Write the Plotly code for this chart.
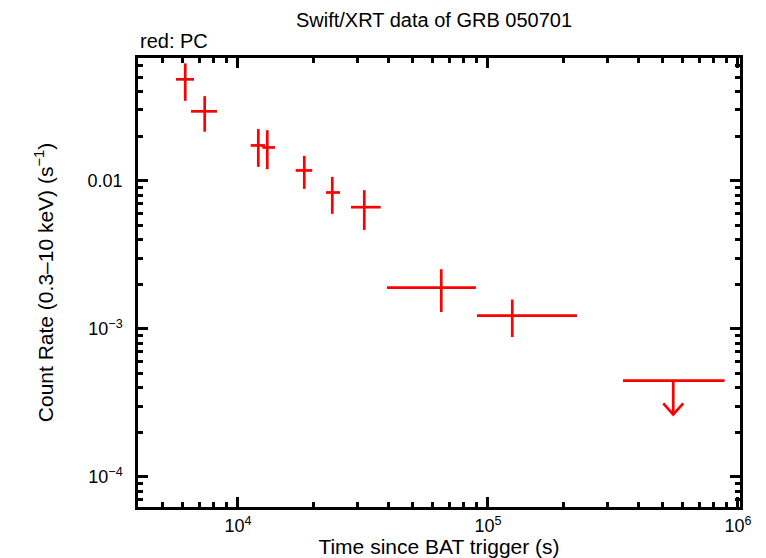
import numpy as np
import plotly.graph_objects as go

# Data (PC mode, red)
t = [6152, 7359, 12057, 13098, 18415, 23835, 32002, 65044, 125085]
t_lo = [5649, 6486, 11240, 12507, 17014, 22491, 28314, 39446, 90365]
t_hi = [6668, 8241, 12823, 14060, 19824, 25586, 37239, 89536, 226986]
rate = [0.0483, 0.02937, 0.01729, 0.01676, 0.01172, 0.00832, 0.00662, 0.001899, 0.001228]
rate_hi = [0.0619, 0.0372, 0.0223, 0.0219, 0.01471, 0.01061, 0.00863, 0.002524, 0.001576]
rate_lo = [0.0346, 0.0214, 0.01239, 0.01196, 0.00880, 0.00597, 0.00465, 0.001299, 0.000880]

# Upper limit
ul_t = [551077]
ul_t_lo = [346737]
ul_t_hi = [884723]
ul_rate = [0.000447]
ul_tip = [0.000264]

x_tickvals = [1e4, 1e5, 1e6]
x_ticktext = ["10<sup>4</sup>", "10<sup>5</sup>", "10<sup>6</sup>"]
y_tickvals = [1e-4, 1e-3, 1e-2]
y_ticktext = ["10<sup>\u22124</sup>", "10<sup>\u22123</sup>", "0.01"]

RED = "#ff0000"
LW = 2.7

fig = go.Figure()

fig.add_trace(go.Scatter(
    x=t, y=rate, mode="markers",
    marker=dict(size=1, color=RED, opacity=0),
    error_x=dict(type="data", symmetric=False,
                 array=[h - c for h, c in zip(t_hi, t)],
                 arrayminus=[c - l for c, l in zip(t, t_lo)],
                 color=RED, thickness=LW, width=0),
    error_y=dict(type="data", symmetric=False,
                 array=[h - c for h, c in zip(rate_hi, rate)],
                 arrayminus=[c - l for c, l in zip(rate, rate_lo)],
                 color=RED, thickness=LW, width=0),
    showlegend=False, hoverinfo="skip"))

# Upper limit: horizontal bar, stem and chevron
for tc, tl, th, r, tip in zip(ul_t, ul_t_lo, ul_t_hi, ul_rate, ul_tip):
    fig.add_trace(go.Scatter(x=[tl, th], y=[r, r], mode="lines",
                             line=dict(color=RED, width=LW), showlegend=False,
                             hoverinfo="skip"))
    fig.add_trace(go.Scatter(x=[tc, tc], y=[r, tip], mode="lines",
                             line=dict(color=RED, width=LW), showlegend=False,
                             hoverinfo="skip"))
    dx = 10 ** 0.04
    dy = 10 ** 0.075
    fig.add_trace(go.Scatter(x=[tc / dx, tc, tc * dx], y=[tip * dy, tip, tip * dy],
                             mode="lines", line=dict(color=RED, width=LW),
                             showlegend=False, hoverinfo="skip"))

def minor_vals(lo, hi):
    vals = []
    for e in range(lo, hi):
        for k in range(2, 10):
            vals.append(k * 10.0 ** e)
    return vals

FONT = "Liberation Sans"
AXW = 2.5

fig.update_xaxes(
    type="log", range=[np.log10(3981), np.log10(1.019e6)],
    tickvals=x_tickvals, ticktext=x_ticktext,
    ticks="inside", ticklen=10, tickwidth=AXW, tickcolor="black",
    showline=True, linecolor="black", linewidth=AXW, mirror="allticks",
    showgrid=False, zeroline=False, automargin=False,
    minor=dict(tickvals=minor_vals(3, 6), ticks="inside", ticklen=5,
               tickwidth=AXW, tickcolor="black", showgrid=False),
    tickfont=dict(family=FONT, size=18, color="black"),
    ticklabelstandoff=1,
    title=dict(text="Time since BAT trigger (s)", standoff=6,
               font=dict(family=FONT, size=21, color="black")),
)
fig.update_yaxes(
    type="log", range=[-4.203, -1.172],
    tickvals=y_tickvals, ticktext=y_ticktext,
    ticks="inside", ticklen=10, tickwidth=AXW, tickcolor="black",
    showline=True, linecolor="black", linewidth=AXW, mirror="allticks",
    showgrid=False, zeroline=False, automargin=False,
    minor=dict(tickvals=minor_vals(-5, -1), ticks="inside", ticklen=5,
               tickwidth=AXW, tickcolor="black", showgrid=False),
    tickfont=dict(family=FONT, size=18, color="black"),
    ticklabelstandoff=9,
    title=dict(text="Count Rate (0.3\u201310 keV) (s<sup>\u22121</sup>)", standoff=29,
               font=dict(family=FONT, size=21, color="black")),
)

W, H = 766, 558
fig.update_layout(
    width=W, height=H,
    margin=dict(l=138, r=26, t=58, b=51),
    paper_bgcolor="white", plot_bgcolor="white",
    hovermode=False,
    title=dict(text="Swift/XRT data of GRB 050701", x=434 / W, xanchor="center",
               xref="container", yref="container",
               y=1 - 20 / H, yanchor="middle",
               font=dict(family=FONT, size=20, color="black")),
    annotations=[dict(text="red: PC", xref="paper", yref="paper", x=0, y=1.0,
                      xanchor="left", yanchor="bottom", yshift=4, showarrow=False,
                      font=dict(family=FONT, size=20, color="black"))],
)

fig.write_html("out.html", config={"displayModeBar": False},
               post_script="document.body.style.margin='0';document.body.style.overflow='hidden';")
